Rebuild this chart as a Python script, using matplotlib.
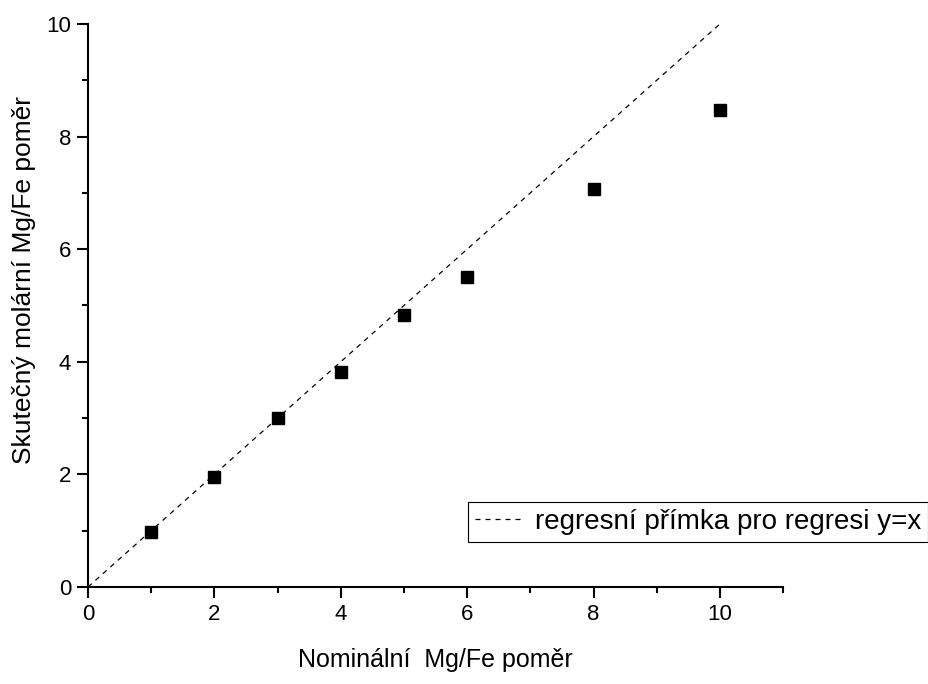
import numpy as np
import matplotlib.pyplot as plt
from matplotlib.ticker import MultipleLocator

plt.rcParams['font.family'] = ['Liberation Sans', 'DejaVu Sans']

nominal = [1, 2, 3, 4, 5, 6, 8, 10]
actual = [0.98, 1.96, 3.0, 3.82, 4.83, 5.5, 7.06, 8.48]
line_x = [0, 10]
line_y = [0, 10]

fig = plt.figure(figsize=(9.29, 6.84), dpi=100)
ax = fig.add_axes([0.0947, 0.1418, 0.843 - 0.0947, 0.965 - 0.1418])

ax.plot(line_x, line_y, color='black', linestyle=(0, (4, 4)), linewidth=0.9,
        label='regresní přímka pro regresi y=x')
ax.plot(nominal, actual, 's', color='black', markersize=8.5, linestyle='none')

ax.set_xlim(0, 11)
ax.set_ylim(0, 10)
ax.xaxis.set_major_locator(MultipleLocator(2))
ax.xaxis.set_minor_locator(MultipleLocator(1))
ax.yaxis.set_major_locator(MultipleLocator(2))
ax.yaxis.set_minor_locator(MultipleLocator(1))
ax.tick_params(which='major', direction='out', length=8, width=1.5, labelsize=16, pad=4)
ax.tick_params(which='minor', direction='out', length=4, width=1.5)
for s in ['top', 'right']:
    ax.spines[s].set_visible(False)
for s in ['left', 'bottom']:
    ax.spines[s].set_linewidth(1.5)

ax.set_xlabel('Nominální  Mg/Fe poměr', fontsize=18, labelpad=17)
ax.set_ylabel('Skutečný molární Mg/Fe poměr', fontsize=19)
ax.yaxis.set_label_coords(-0.075, 0.545)

leg = ax.legend(loc='upper right', bbox_to_anchor=(0.999, 0.266),
                bbox_transform=fig.transFigure, fontsize=20, fancybox=False,
                edgecolor='black', framealpha=1, handlelength=1.75,
                borderaxespad=0, borderpad=0.25, handletextpad=0.4)
leg.get_frame().set_linewidth(0.8)

fig.savefig('out.png', dpi=100)
